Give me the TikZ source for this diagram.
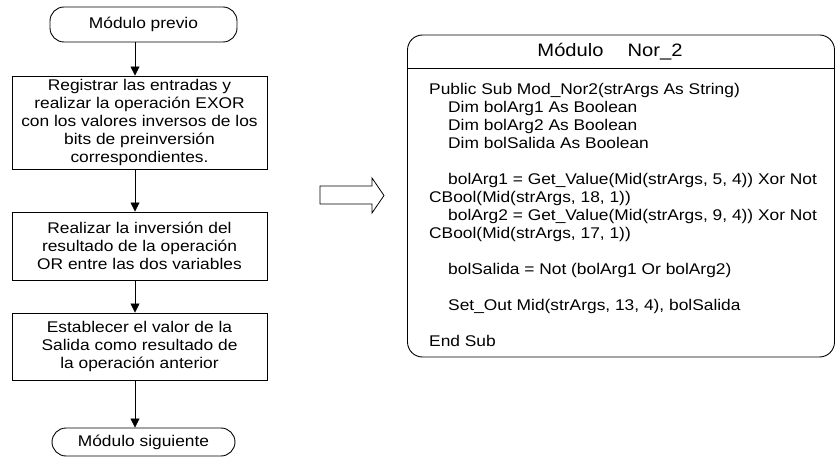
\documentclass[tikz,border=0pt]{standalone}
\usepackage{fontspec}
\setmainfont[FakeStretch=1.12]{Liberation Sans}
\usetikzlibrary{arrows.meta,calc}
\newcommand\codeind{\hspace*{19pt}}
\begin{document}
\begin{tikzpicture}[x=1pt,y=-1pt,
  flowbox/.style={draw, line width=0.9pt, minimum width=255pt, align=center, inner sep=0pt,
    font=\fontsize{15.5}{18}\selectfont},
  termbox/.style={draw, line width=0.9pt, rounded corners=14pt, inner sep=0pt,
    font=\fontsize{15.5}{18}\selectfont},
  flowarrow/.style={line width=0.8pt, -{Triangle[width=9pt,length=9pt]}},
  codefont/.style={font=\fontsize{15.5}{18}\selectfont}]
\useasboundingbox (0,0) rectangle (836,457);

% flowchart
\node[termbox, minimum width=187pt, minimum height=35pt] (t1) at (143.5,24.5) {Módulo previo};
\node[flowbox, minimum height=93pt] (b1) at (139.5,122.5)
  {Registrar las entradas y\\realizar la operación EXOR\\con los valores inversos de los\\bits de preinversión\\correspondientes.};
\node[flowbox, minimum height=68pt] (b2) at (139.5,246)
  {Realizar la inversión del\\resultado de la operación\\OR entre las dos variables};
\node[flowbox, minimum height=67pt] (b3) at (139.5,346.5)
  {Establecer el valor de la\\Salida como resultado de\\la operación anterior};
\node[termbox, minimum width=183pt, minimum height=28pt] (t2) at (143.5,442) {Módulo siguiente};

\coordinate (ax) at (135,0);
\draw[flowarrow] (t1.south -| ax) -- (b1.north -| ax);
\draw[flowarrow] (b1.south -| ax) -- (b2.north -| ax);
\draw[flowarrow] (b2.south -| ax) -- (b3.north -| ax);
\draw[flowarrow] (b3.south -| ax) -- (t2.north -| ax);

% block arrow
\draw[line width=0.8pt, line join=miter] (320,186) -- (372,186) -- (372,178) -- (384,195.5)
  -- (372,213) -- (372,204) -- (320,204) -- cycle;

% code module box
\node[draw, line width=0.9pt, rounded corners=15pt, minimum width=427pt, minimum height=322pt,
  inner sep=0pt] (code) at (621,196) {};
\coordinate (sepL) at ($(code.north west)+(0,34)$);
\coordinate (sepR) at ($(code.north east)+(0,34)$);
\draw[line width=0.9pt] (sepL) -- (sepR);
\node[font=\fontsize{18}{20}\selectfont, inner sep=0pt] (title) at (610,52) {Módulo\hspace{24pt}Nor\_2};

\node[codefont, anchor=north west, align=left, inner sep=0pt] (src) at (429,83) {%
Public Sub Mod\_Nor2(strArgs As String)\\
\codeind Dim bolArg1 As Boolean\\
\codeind Dim bolArg2 As Boolean\\
\codeind Dim bolSalida As Boolean\\[18pt]
\codeind bolArg1 = Get\_Value(Mid(strArgs, 5, 4)) Xor Not\\
CBool(Mid(strArgs, 18, 1))\\
\codeind bolArg2 = Get\_Value(Mid(strArgs, 9, 4)) Xor Not\\
CBool(Mid(strArgs, 17, 1))\\[18pt]
\codeind bolSalida = Not (bolArg1 Or bolArg2)\\[18pt]
\codeind Set\_Out Mid(strArgs, 13, 4), bolSalida\\[18pt]
End Sub};
\end{tikzpicture}
\end{document}
